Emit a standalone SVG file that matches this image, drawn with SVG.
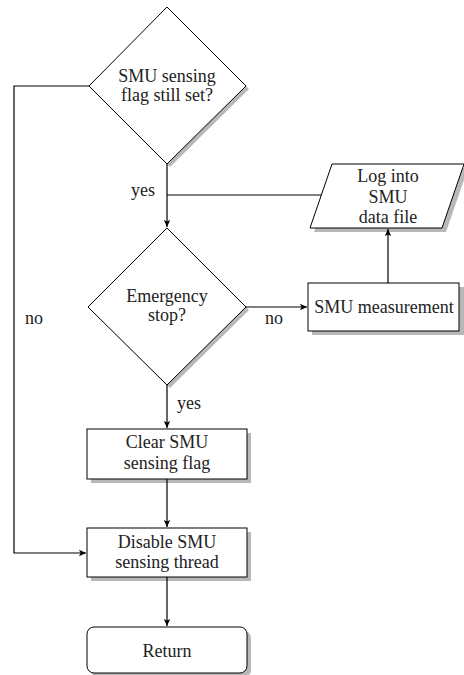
<svg xmlns="http://www.w3.org/2000/svg" width="464" height="675" viewBox="0 0 464 675" font-family="'Liberation Serif', serif">
<style>
.sh{fill:#b8b8b8;stroke:none}
.nd{fill:#fff;stroke:#000;stroke-width:1}
.t{font-family:'Liberation Serif',serif;font-size:18px;fill:#222;text-anchor:middle}
.l{font-family:'Liberation Serif',serif;font-size:18px;fill:#222}
.c{fill:none;stroke:#000;stroke-width:1.2}
</style>
<defs>
<marker id="ar" markerWidth="8" markerHeight="8" refX="7" refY="4" orient="auto" markerUnits="userSpaceOnUse">
<path d="M0,0.8 L7,4 L0,7.2 L1.6,4 Z" fill="#000"/>
</marker>
</defs>
<rect width="464" height="675" fill="#fff"/>
<g id="d1">
<polygon class="sh" points="170,10 249,89 170,167 92,89"/>
<polygon class="nd" points="167,7 246,86 167,164 89,86"/>
<text class="t" x="167" y="82">SMU sensing</text>
<text class="t" x="167" y="101">flag still set?</text>
</g>
<g id="d2">
<polygon class="sh" points="170,231 249,310 170,388 91,310"/>
<polygon class="nd" points="167,228 246,307 167,385 88,307"/>
<text class="t" x="167" y="302">Emergency</text>
<text class="t" x="167" y="321">stop?</text>
</g>
<g id="log">
<polygon class="sh" points="336,168 468,168 446,232 314,232"/>
<polygon class="nd" points="332,164 464,164 442,228 310,228"/>
<text class="t" x="388" y="182">Log into</text>
<text class="t" x="388" y="203">SMU</text>
<text class="t" x="388" y="223">data file</text>
</g>
<g id="meas">
<rect class="sh" x="312" y="287" width="152" height="48"/>
<rect class="nd" x="308" y="283" width="151" height="48"/>
<text class="t" x="384" y="313">SMU measurement</text>
</g>
<g id="clear">
<rect class="sh" x="91" y="433" width="160" height="50"/>
<rect class="nd" x="87" y="429" width="160" height="50"/>
<text class="t" x="167" y="448">Clear SMU</text>
<text class="t" x="167" y="469">sensing flag</text>
</g>
<g id="disable">
<rect class="sh" x="91" y="532" width="160" height="49"/>
<rect class="nd" x="87" y="528" width="160" height="49"/>
<text class="t" x="167" y="548">Disable SMU</text>
<text class="t" x="167" y="568">sensing thread</text>
</g>
<g id="ret">
<rect class="sh" x="91" y="631" width="160" height="46" rx="7"/>
<rect class="nd" x="87" y="627" width="160" height="46" rx="7"/>
<text class="t" x="167" y="657">Return</text>
</g>
<g id="connectors">
<path class="c" d="M167,164 V227" marker-end="url(#ar)"/>
<path class="c" d="M167,195 H321"/>
<path class="c" d="M246,307 H307" marker-end="url(#ar)"/>
<path class="c" d="M388,283 V229" marker-end="url(#ar)"/>
<path class="c" d="M167,385 V428" marker-end="url(#ar)"/>
<path class="c" d="M167,479 V527" marker-end="url(#ar)"/>
<path class="c" d="M167,577 V626" marker-end="url(#ar)"/>
<path class="c" d="M89,86 H14 V553 H86" marker-end="url(#ar)"/>
<text class="l" x="131" y="196">yes</text>
<text class="l" x="177" y="409">yes</text>
<text class="l" x="265" y="324">no</text>
<text class="l" x="25" y="324">no</text>
</g>
</svg>
